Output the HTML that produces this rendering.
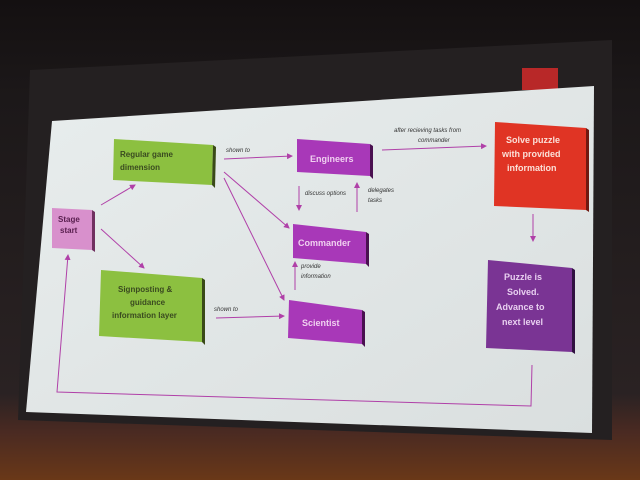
<!DOCTYPE html>
<html><head><style>
html,body{margin:0;padding:0;background:#1a1516;}
svg{display:block}
text{font-family:"Liberation Sans",sans-serif;}
</style></head><body>
<svg width="640" height="480" viewBox="0 0 640 480" xmlns="http://www.w3.org/2000/svg">
<defs>
<linearGradient id="bg" x1="0" y1="0" x2="0" y2="1">
<stop offset="0" stop-color="#141011"/>
<stop offset="0.2" stop-color="#1c1819"/>
<stop offset="0.82" stop-color="#2a2223"/>
<stop offset="0.9" stop-color="#4a2a22"/>
<stop offset="1" stop-color="#6a3818"/>
</linearGradient>
<linearGradient id="sl" x1="0" y1="0" x2="1" y2="1">
<stop offset="0" stop-color="#e8eded"/>
<stop offset="1" stop-color="#dadfdf"/>
</linearGradient>
<marker id="a" markerWidth="6" markerHeight="6" refX="5" refY="3" orient="auto"><path d="M0,0 L6,3 L0,6z" fill="#b040a8"/></marker>
</defs>
<rect width="640" height="480" fill="url(#bg)"/>
<polygon points="30,70 612,40 612,440 18,420" fill="#242021"/>
<rect x="522" y="68" width="36" height="22" fill="#b82828"/>
<polygon points="52,121 594,86 592,433 26,412" fill="url(#sl)"/>
<g stroke="#b040a8" stroke-width="1" fill="none" marker-end="url(#a)">
<line x1="101" y1="205" x2="135" y2="185"/>
<line x1="101" y1="229" x2="144" y2="268"/>
<line x1="224" y1="159" x2="292" y2="156"/>
<line x1="224" y1="172" x2="289" y2="228"/>
<line x1="224" y1="178" x2="284" y2="300"/>
<line x1="216" y1="318" x2="284" y2="316"/>
<line x1="299" y1="186" x2="299" y2="210"/>
<line x1="357" y1="212" x2="357" y2="183"/>
<line x1="295" y1="290" x2="295" y2="262"/>
<line x1="382" y1="150" x2="486" y2="146"/>
<line x1="533" y1="214" x2="533" y2="241"/>
<polyline points="532,365 531,406 57,392 68,255"/>
</g>
<g font-style="italic" font-size="6" fill="#333">
<text x="226" y="152">shown to</text>
<text x="214" y="311">shown to</text>
<text x="305" y="195">discuss options</text>
<text x="368" y="192">delegates</text>
<text x="368" y="202">tasks</text>
<text x="301" y="268">provide</text>
<text x="301" y="278">information</text>
<text x="394" y="132">after recieving tasks from</text>
<text x="418" y="142">commander</text>
</g>
<polygon points="52,208 92,210 92,250 52,248" fill="#d890cc"/>
<polygon points="92,210 95,212 95,252 92,250" fill="#703060"/>
<text x="58" y="222" font-size="8" fill="#5a2050" font-weight="bold">Stage</text>
<text x="60" y="233" font-size="8" fill="#5a2050" font-weight="bold">start</text>
<polygon points="114,139 213,145 212,185 113,180" fill="#8cc040"/>
<polygon points="213,145 216,147 215,188 212,185" fill="#3a4a18"/>
<text x="120" y="157" font-size="8" fill="#3a4a20" font-weight="bold">Regular game</text>
<text x="120" y="170" font-size="8" fill="#3a4a20" font-weight="bold">dimension</text>
<polygon points="101,270 202,278 202,342 99,336" fill="#8cc040"/>
<polygon points="202,278 205,280 205,345 202,342" fill="#3a4a18"/>
<text x="118" y="292" font-size="8" fill="#3a4a20" font-weight="bold">Signposting &amp;</text>
<text x="130" y="305" font-size="8" fill="#3a4a20" font-weight="bold">guidance</text>
<text x="112" y="318" font-size="8" fill="#3a4a20" font-weight="bold">information layer</text>
<polygon points="297,139 370,144 370,176 297,172" fill="#a838b8"/>
<polygon points="370,144 373,146 373,179 370,176" fill="#4a1050"/>
<text x="310" y="162" font-size="9" fill="#f0d0f0" font-weight="bold">Engineers</text>
<polygon points="293,224 366,232 366,264 293,258" fill="#a838b8"/>
<polygon points="366,232 369,234 369,267 366,264" fill="#4a1050"/>
<text x="298" y="246" font-size="9" fill="#f0d0f0" font-weight="bold">Commander</text>
<polygon points="289,300 362,310 362,344 288,338" fill="#a838b8"/>
<polygon points="362,310 365,312 365,347 362,344" fill="#4a1050"/>
<text x="302" y="326" font-size="9" fill="#f0d0f0" font-weight="bold">Scientist</text>
<polygon points="495,122 586,128 586,210 494,206" fill="#e03424"/>
<polygon points="586,128 589,130 589,212 586,210" fill="#701810"/>
<text x="506" y="143" font-size="9" fill="#fbe0d8" font-weight="bold">Solve puzzle</text>
<text x="502" y="157" font-size="9" fill="#fbe0d8" font-weight="bold">with provided</text>
<text x="507" y="171" font-size="9" fill="#fbe0d8" font-weight="bold">information</text>
<polygon points="488,260 572,268 572,352 486,348" fill="#7a3494"/>
<polygon points="572,268 575,270 575,354 572,352" fill="#301040"/>
<text x="504" y="280" font-size="9" fill="#e8d0f0" font-weight="bold">Puzzle is</text>
<text x="507" y="295" font-size="9" fill="#e8d0f0" font-weight="bold">Solved.</text>
<text x="496" y="310" font-size="9" fill="#e8d0f0" font-weight="bold">Advance to</text>
<text x="502" y="325" font-size="9" fill="#e8d0f0" font-weight="bold">next level</text>
</svg>
</body></html>
